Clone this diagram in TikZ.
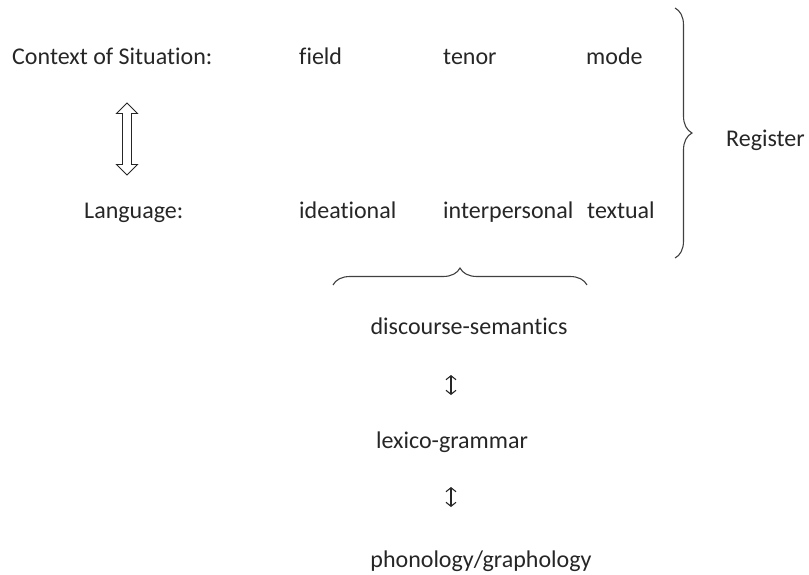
\documentclass[tikz,border=0pt]{standalone}
\usepackage{fontspec}
\setmainfont[Ligatures=NoCommon]{Carlito}
\usepackage{tikz}
\usetikzlibrary{calc,shapes,arrows,arrows.meta}
\usetikzlibrary{decorations.pathreplacing}
\usetikzlibrary{positioning}

\begin{document}
\begin{tikzpicture}[x=1pt,y=-1pt,
	lbl/.style={anchor=base west,inner sep=0pt,font=\fontsize{24}{28}\selectfont,text=black!85},
	brc/.style={decorate,decoration={brace,amplitude=17pt},line width=1.1pt,black!75}]
	\useasboundingbox (0,0) rectangle (809,574);
	
	% context of situation and language
	\node[lbl] (ctx) at (12,64) {Context of Situation:};
	\node[lbl] (field) at (299,64) {field};
	\node[lbl] (tenor) at (443,64) {tenor};
	\node[lbl] (mode) at (586,64) {mode};
	
	\node[lbl] (lang) at (84,218) {Language:};
	\node[lbl] (idea) at (299,218) {ideational};
	\node[lbl] (inter) at (443,218) {interpersonal};
	\node[lbl] (text) at (587,218) {textual};
	
	\node[draw,double arrow,rotate=90,minimum height=72pt,minimum width=21pt,
	      double arrow head extend=6pt,inner sep=4pt,line width=0.9pt,black!85] (rel) at (127,139) {};
	
	% register
	\draw[brc] (675,8) -- (675,258);
	\node[lbl] (reg) at (726,146) {Register};
	
	\draw[brc] (333,285) -- (587,285);
	
	% strata
	\node[lbl,anchor=base] (ds) at (469,334) {discourse-semantics};
	\node[lbl,anchor=base] (lg) at (452,448) {lexico-grammar};
	\node[lbl,anchor=base] (pg) at (481,567) {phonology/graphology};
	
	\coordinate (a1) at (451,375);
	\coordinate (a2) at (451,395);
	\coordinate (b1) at (451,487);
	\coordinate (b2) at (451,507);
	\draw[{Straight Barb[length=4pt,width=10pt]}-{Straight Barb[length=4pt,width=10pt]},line width=1.1pt,black!85] (a1)--(a2);
	\draw[{Straight Barb[length=4pt,width=10pt]}-{Straight Barb[length=4pt,width=10pt]},line width=1.1pt,black!85] (b1)--(b2);
\end{tikzpicture}
\end{document}
